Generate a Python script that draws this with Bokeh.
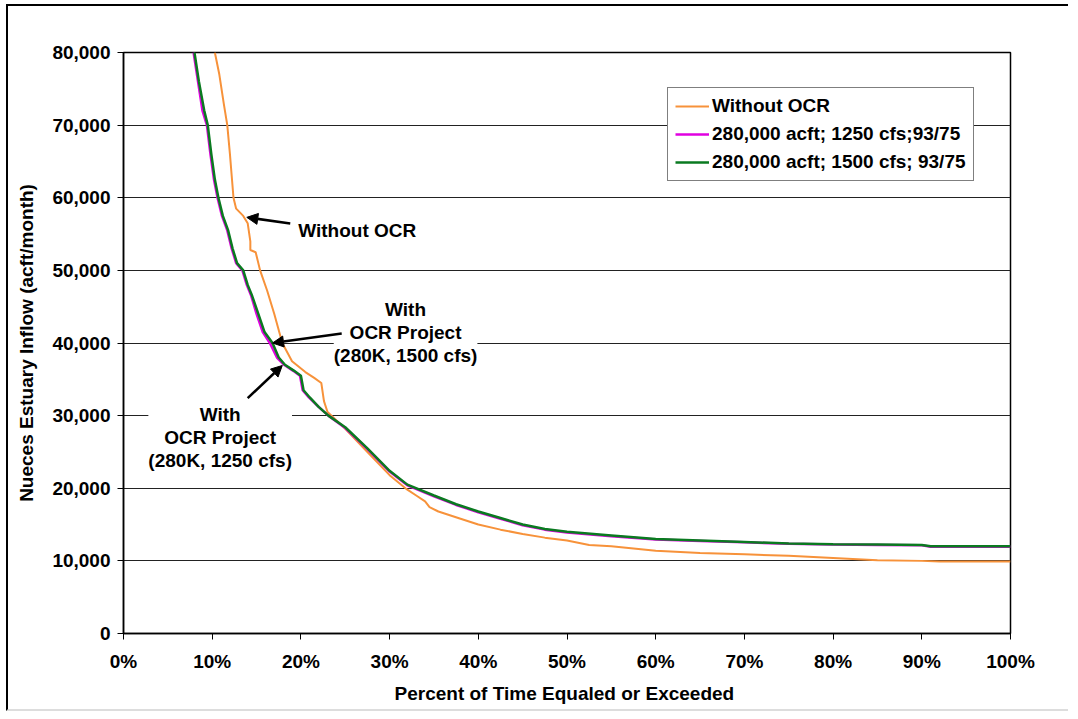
from bokeh.plotting import figure
from bokeh.models import (ColumnDataSource, Legend, LegendItem, Label, Arrow,
                          NormalHead, NumeralTickFormatter, PrintfTickFormatter,
                          FixedTicker, Range1d)
from bokeh.embed import file_html
from bokeh.resources import INLINE

# ---------------- data ----------------
no_ocr_pct = [10.3, 10.8, 11.3, 11.7, 12.0, 12.2, 12.4, 12.7, 13.5, 14.0, 14.3, 14.3,
              14.9, 15.4, 16.2, 17.0, 17.9, 19.0, 20.5, 21.5, 22.3, 22.6, 23.0, 25.0,
              27.5, 30.0, 32.0, 33.0, 34.0, 34.5, 35.5, 38.0, 40.0, 42.5, 45.0, 47.5,
              50.0, 52.5, 55.0, 57.5, 60.0, 65.0, 70.0, 75.0, 80.0, 85.0, 90.0, 92.0, 100.0]
no_ocr_val = [80000, 77000, 73000, 70000, 66000, 63000, 60000, 58500, 57500, 56500, 54000, 52800,
              52500, 50000, 47200, 44000, 40000, 37500, 36000, 35200, 34500, 32000, 30500, 28200,
              25000, 21800, 19800, 19000, 18200, 17400, 16800, 15800, 15000, 14300, 13700, 13200,
              12800, 12200, 12000, 11700, 11400, 11100, 10900, 10700, 10400, 10100, 10000, 9900, 9900]

ocr1250_pct = [7.9, 8.4, 8.9, 9.4, 9.8, 10.2, 10.6, 11.1, 11.7, 12.2, 12.7, 13.4, 13.9,
               14.4, 15.0, 15.7, 16.5, 17.3, 18.1, 19.1, 19.9, 20.2, 20.9, 22.0, 23.1,
               25.0, 27.5, 30.0, 32.0, 35.0, 37.5, 40.0, 42.5, 45.0, 47.5, 50.0, 55.0,
               60.0, 65.0, 70.0, 75.0, 80.0, 85.0, 90.0, 91.0, 100.0]
ocr1250_val = [80000, 76000, 72000, 70000, 66000, 62500, 60000, 57500, 55500, 53000, 51000, 50000, 48000,
               46500, 44000, 41500, 40000, 38000, 37000, 36200, 35500, 33500, 32500, 31200, 30000,
               28300, 25400, 22300, 20400, 18900, 17700, 16700, 15800, 14900, 14300, 13900, 13400,
               12950, 12750, 12550, 12350, 12250, 12200, 12150, 11950, 11950]

ocr1500_pct = [8.0, 8.5, 9.1, 9.5, 9.9, 10.3, 10.7, 11.2, 11.8, 12.3, 12.8, 13.5, 14.0,
               14.5, 15.2, 15.9, 16.8, 17.5, 18.2, 19.2, 20.0, 20.3, 21.0, 22.0, 23.1,
               25.0, 27.5, 30.0, 32.0, 35.0, 37.5, 40.0, 42.5, 45.0, 47.5, 50.0, 55.0,
               60.0, 65.0, 70.0, 75.0, 80.0, 85.0, 90.0, 91.0, 100.0]
ocr1500_val = [80000, 76000, 72000, 70000, 66000, 62500, 60000, 57500, 55500, 53000, 51000, 50000, 48000,
               46500, 44000, 41500, 40000, 38000, 37000, 36200, 35500, 33500, 32500, 31200, 30000,
               28400, 25500, 22400, 20500, 19000, 17800, 16800, 15900, 15000, 14400, 14000, 13500,
               13000, 12800, 12600, 12400, 12300, 12250, 12200, 12000, 12000]

series_names = ["Without OCR", "280,000 acft; 1250 cfs;93/75", "280,000 acft; 1500 cfs; 93/75"]
series_colors = ["#F7923A", "#E000E0", "#0A7A20"]

x_ticks = [0, 10, 20, 30, 40, 50, 60, 70, 80, 90, 100]
y_ticks = [0, 10000, 20000, 30000, 40000, 50000, 60000, 70000, 80000]

FONT = "Liberation Sans"
FS = "19px"

# ---------------- figure ----------------
p = figure(width=1062, height=707, output_backend="svg", toolbar_location=None,
           x_range=Range1d(0, 100), y_range=Range1d(0, 80000),
           min_border_left=115, min_border_right=60, min_border_top=46, min_border_bottom=80)
p.styles = {"margin-left": "6px", "margin-top": "4px",
            "border-left": "2px solid black", "border-top": "2px solid black",
            "border-bottom": "2px solid #dddddd"}
p.background_fill_color = "white"
p.border_fill_color = "white"
p.outline_line_color = "black"
p.outline_line_width = 1.5

p.xgrid.grid_line_color = None
p.ygrid.grid_line_color = "#222222"
p.ygrid.grid_line_width = 1

p.xaxis.ticker = FixedTicker(ticks=x_ticks)
p.yaxis.ticker = FixedTicker(ticks=y_ticks)
p.xaxis.formatter = PrintfTickFormatter(format="%d%%")
p.yaxis.formatter = NumeralTickFormatter(format="0,0")

for ax in (p.xaxis, p.yaxis):
    ax.axis_line_color = "black"
    ax.axis_line_width = 1.5
    ax.major_tick_line_color = "black"
    ax.major_tick_out = 6
    ax.major_tick_in = 0
    ax.minor_tick_line_color = None
    ax.major_label_text_font = FONT
    ax.major_label_text_font_style = "bold"
    ax.major_label_text_font_size = FS
    ax.major_label_text_color = "black"
    ax.axis_label_text_font = FONT
    ax.axis_label_text_font_style = "bold"
    ax.axis_label_text_font_size = FS
    ax.axis_label_text_color = "black"

p.xaxis.axis_label = "Percent of Time Equaled  or Exceeded"
p.yaxis.axis_label = "Nueces Estuary Inflow (acft/month)"
p.xaxis.major_label_standoff = 11
p.xaxis.axis_label_standoff = 8
p.yaxis.major_label_standoff = 7
p.yaxis.axis_label_standoff = 12

# ---------------- curves ----------------
renderers = []
for xs, ys, c, w in [(no_ocr_pct, no_ocr_val, series_colors[0], 2),
                     (ocr1250_pct, ocr1250_val, series_colors[1], 2.5),
                     (ocr1500_pct, ocr1500_val, series_colors[2], 2.5)]:
    src = ColumnDataSource(dict(x=xs, y=ys))
    r = p.line("x", "y", source=src, line_color=c, line_width=w)
    renderers.append(r)

legend = Legend(items=[LegendItem(label=n, renderers=[r]) for n, r in zip(series_names, renderers)],
                location=(544, 452))
legend.label_text_font = FONT
legend.label_text_font_style = "bold"
legend.label_text_font_size = FS
legend.label_text_color = "black"
legend.label_height = 20
legend.glyph_height = 20
legend.glyph_width = 34
legend.label_standoff = 3
legend.spacing = 6
legend.padding = 7
legend.margin = 0
legend.border_line_color = "black"
legend.border_line_width = 1
legend.background_fill_color = "white"
legend.background_fill_alpha = 1
p.add_layout(legend, "center")

# ---------------- annotations ----------------
def add_label(x, y, text, align):
    lab = Label(x=x, y=y, text=text, text_font=FONT, text_font_style="bold",
                text_font_size=FS, text_color="black", text_align=align,
                text_baseline="middle", text_line_height=1.1,
                background_fill_color="white", background_fill_alpha=1.0)
    p.add_layout(lab)

add_label(19.7, 55500, "Without OCR", "left")
add_label(31.8, 41450, "With\nOCR Project\n(280K, 1500 cfs)", "center")
add_label(10.9, 27000, "With\nOCR Project\n(280K, 1250 cfs)", "center")

for (x0, y0, x1, y1) in [(18.8, 56450, 13.9, 57300),
                         (24.6, 41300, 16.8, 40000),
                         (14.0, 32400, 17.9, 36900)]:
    p.add_layout(Arrow(x_start=x0, y_start=y0, x_end=x1, y_end=y1,
                       line_color="black", line_width=2.5,
                       end=NormalHead(size=11, fill_color="black", line_color="black")))

open("out.html", "w").write(file_html(p, INLINE))
